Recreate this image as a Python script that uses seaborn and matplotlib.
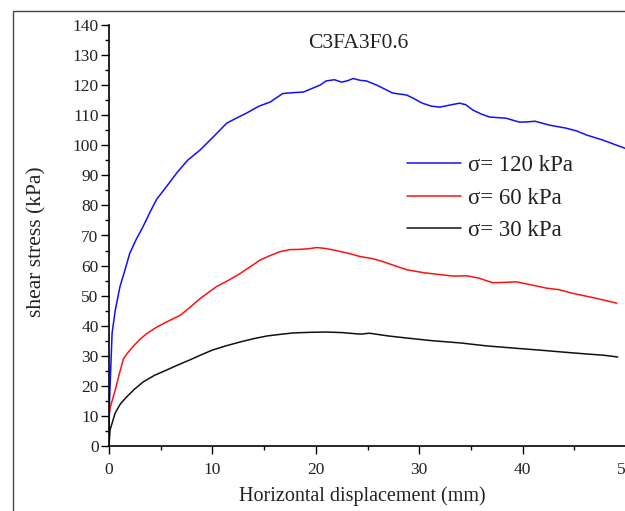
import matplotlib
matplotlib.use("Agg")
import matplotlib.pyplot as plt
from matplotlib.patches import Rectangle
from matplotlib.ticker import MultipleLocator
import seaborn as sns
import pandas as pd

# ---- data ----
x_120 = [0, 0.05, 0.3, 0.6, 1.06, 1.5, 2.0, 2.6, 3.3, 4.0, 4.6, 5.5, 6.6, 7.6, 8.8, 10.0,
         11.4, 12.3, 13.3, 14.5, 15.6, 16.8, 17.8, 18.8, 19.7, 20.4, 21.0, 21.8, 22.5, 23.1,
         23.6, 24.3, 24.9, 25.9, 26.6, 27.4, 28.8, 29.5, 30.3, 31.2, 32.0, 33.0, 33.9, 34.5,
         35.2, 36.0, 36.8, 38.4, 39.7, 40.5, 41.2, 42.6, 44.2, 45.2, 46.2, 47.7, 49.9]
y_120 = [3, 15, 37.6, 45, 53, 58, 64, 68.5, 73, 78, 82, 86, 91, 95, 98.4, 102.5,
         107.4, 109, 110.7, 113, 114.4, 117.2, 117.5, 117.7, 119, 120, 121.4, 121.8, 121, 121.5,
         122.2, 121.6, 121.4, 120, 118.8, 117.4, 116.7, 115.5, 114, 113, 112.7, 113.4, 114, 113.5,
         111.7, 110.4, 109.4, 109, 107.7, 107.8, 108, 106.7, 105.7, 104.8, 103.4, 101.8, 99]

x_60 = [0, 0.1, 0.6, 1.0, 1.4, 1.7, 2.3, 3.0, 3.7, 4.6, 5.6, 6.9, 7.8, 8.8, 10.4, 11.5,
        12.7, 13.6, 14.6, 15.5, 16.5, 17.5, 18.5, 19.3, 20.1, 20.9, 21.7, 23.0, 24.3, 25.5,
        26.5, 27.6, 28.8, 30.5, 32.0, 33.3, 34.6, 35.8, 37.1, 38.2, 39.4, 40.8, 42.3, 43.5,
        44.8, 47.0, 49.1]
y_60 = [10, 12.6, 18.6, 24, 29, 30.5, 33, 35.5, 37.5, 39.5, 41.3, 43.5, 46, 49, 53, 55,
        57.4, 59.5, 61.8, 63.2, 64.6, 65.3, 65.4, 65.6, 66, 65.7, 65.2, 64.2, 63, 62.3,
        61.3, 60, 58.6, 57.6, 57, 56.5, 56.6, 55.8, 54.3, 54.4, 54.6, 53.6, 52.5, 52,
        50.8, 49.2, 47.5]

x_30 = [0, 0.1, 0.6, 1.1, 1.7, 2.5, 3.3, 4.4, 5.6, 6.7, 7.8, 8.9, 10, 11.3, 12.7, 14.0,
        15.3, 16.5, 17.8, 19.4, 21, 22.6, 24.3, 25.2, 27.0, 28.8, 31.3, 33.9, 36.5, 39.0,
        41.6, 44.0, 46.2, 47.8, 49.2]
y_30 = [0, 5.3, 11, 14, 16.3, 19, 21.3, 23.5, 25.3, 27, 28.6, 30.3, 31.9, 33.3, 34.6, 35.7,
        36.6, 37.1, 37.6, 37.8, 37.9, 37.7, 37.2, 37.5, 36.6, 35.9, 35.0, 34.3, 33.3, 32.6,
        31.9, 31.2, 30.6, 30.2, 29.6]

labels = ["σ= 120 kPa", "σ= 60 kPa", "σ= 30 kPa"]
colors = ["#1010ff", "#ff1010", "#111111"]
title_text = "C3FA3F0.6"
x_title = "Horizontal displacement (mm)"
y_title = "shear stress (kPa)"

sns.set_style("ticks")
plt.rcParams["font.family"] = ["Liberation Serif", "DejaVu Serif"]

fig = plt.figure(figsize=(6.25, 5.11), dpi=100)
fig.patch.set_facecolor("white")
W, H = 625, 511
ax_left, ax_bottom = 109 / W, (H - 446) / H
ax_h = (446 - 25) / H
xmax = 52
ax_w = xmax * 10.34 / W
ax = fig.add_axes([ax_left, ax_bottom, ax_w, ax_h])

# outer frame of the original figure
fig.patches.append(Rectangle((13 / W, -0.2), 1.3, 1 - 11 / H + 0.2, transform=fig.transFigure,
                             fill=False, edgecolor="#444444", linewidth=1.0, clip_on=False))

frames = []
for xs, ys, lab in [(x_120, y_120, labels[0]), (x_60, y_60, labels[1]), (x_30, y_30, labels[2])]:
    frames.append(pd.DataFrame({"x": xs, "y": ys, "s": lab}))
df = pd.concat(frames, ignore_index=True)

sns.lineplot(data=df, x="x", y="y", hue="s", palette=dict(zip(labels, colors)),
             sort=False, estimator=None, linewidth=1.1, ax=ax, legend=False)

for lab, c in zip(labels, colors):
    ax.plot([], [], color=c, lw=1.1, label=lab)

ax.set_xlim(0, xmax)
ax.set_ylim(0, 140)
ax.xaxis.set_major_locator(MultipleLocator(10))
ax.xaxis.set_minor_locator(MultipleLocator(5))
ax.yaxis.set_major_locator(MultipleLocator(10))
ax.yaxis.set_minor_locator(MultipleLocator(5))
ax.tick_params(which="major", direction="out", length=5.5, width=1.0, labelsize=12.5,
               color="black", labelcolor="#222222")
ax.tick_params(which="minor", direction="out", length=3, width=1.0, color="black")
ax.tick_params(axis="x", pad=6)
ax.tick_params(axis="y", pad=2)
for s in ["top", "right"]:
    ax.spines[s].set_visible(False)
for s in ["left", "bottom"]:
    ax.spines[s].set_linewidth(1.2)
    ax.spines[s].set_color("black")

ax.set_xlabel(x_title, fontsize=14.5, color="#222222")
ax.set_ylabel(y_title, fontsize=15.5, color="#222222")
ax.xaxis.set_label_coords(0.472, -0.095)
ax.yaxis.set_label_coords(-0.117, 0.485)

ax.text(24.1, 134, title_text, ha="center", va="center", fontsize=15.5, color="#222222")

leg = ax.legend(loc="upper left", bbox_to_anchor=(407 / W, 1 - 155 / H),
                bbox_transform=fig.transFigure, frameon=False, fontsize=16.5,
                handlelength=2.35, handletextpad=0.3, labelspacing=0.5,
                borderpad=0, borderaxespad=0)
for t in leg.get_texts():
    t.set_color("#222222")

fig.savefig("out.png", dpi=100, facecolor="white")
